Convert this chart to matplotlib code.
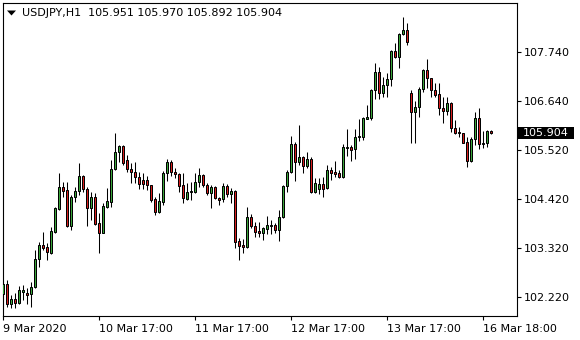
import matplotlib
matplotlib.use('Agg')
import matplotlib.pyplot as plt
from matplotlib.patches import Rectangle, Polygon
from matplotlib.transforms import blended_transform_factory

# USDJPY H1 bars
opens = [102.29, 102.52, 102.07, 102.18, 102.09, 102.34, 102.32, 102.29, 102.45, 103.08,
         103.40, 103.35, 103.22, 103.69, 104.20, 104.70, 104.63, 103.82, 104.47, 104.61,
         104.95, 104.65, 104.23, 104.47, 103.89, 103.66, 104.25, 104.36, 105.10, 105.49,
         105.62, 105.31, 105.10, 105.04, 104.92, 104.86, 104.86, 104.74, 104.43, 104.14,
         104.36, 105.01, 105.26, 105.04, 104.99, 104.74, 104.43, 104.59, 104.59, 104.81,
         104.97, 104.74, 104.56, 104.70, 104.45, 104.43, 104.72, 104.54, 104.61, 103.49,
         103.40, 103.35, 104.02, 103.82, 103.71, 103.66, 103.75, 103.83, 103.84, 103.73,
         104.02, 104.72, 105.04, 105.67, 105.26, 105.37, 105.17, 105.33, 104.59, 104.65,
         104.77, 104.68, 105.08, 105.04, 105.01, 104.92, 105.58, 105.60, 105.55, 105.82,
         105.82, 106.23, 106.25, 106.88, 107.28, 106.81, 106.99, 107.13, 107.76, 107.62,
         108.14, 108.23, 106.81, 106.38, 106.50, 106.90, 107.33, 107.15, 106.88, 106.79,
         106.47, 106.41, 106.59, 106.03, 105.94, 105.91, 105.71, 105.28, 105.78, 106.25,
         105.67, 105.69, 105.951]
highs = [102.61, 102.61, 102.27, 102.32, 102.47, 102.50, 102.43, 102.56, 103.28, 103.46,
         103.69, 103.44, 103.80, 104.25, 105.01, 104.81, 104.81, 104.52, 104.70, 105.24,
         104.97, 104.70, 104.59, 104.56, 104.11, 104.34, 104.68, 105.31, 105.91, 105.64,
         105.64, 105.42, 105.24, 105.26, 105.04, 105.01, 104.95, 104.74, 104.47, 104.56,
         105.06, 105.33, 105.31, 105.13, 105.01, 105.01, 104.79, 104.81, 105.01, 105.13,
         104.99, 104.79, 104.74, 104.72, 104.47, 104.79, 104.77, 104.68, 104.63, 103.55,
         103.53, 104.25, 104.09, 103.91, 103.91, 103.80, 104.05, 103.96, 103.89, 104.18,
         104.74, 105.08, 105.85, 105.71, 106.09, 105.40, 105.49, 105.37, 104.90, 104.90,
         104.92, 105.19, 105.15, 105.28, 105.08, 105.67, 106.00, 105.64, 106.00, 106.23,
         106.27, 106.54, 106.90, 107.49, 107.40, 107.17, 107.26, 107.78, 107.94, 108.16,
         108.52, 108.39, 106.88, 106.63, 106.95, 107.35, 107.58, 107.16, 107.04, 107.04,
         106.72, 106.72, 106.61, 106.21, 106.05, 105.92, 105.82, 105.82, 106.38, 106.47,
         105.96, 105.98, 105.970]
lows = [102.05, 102.00, 101.98, 101.98, 102.07, 102.16, 102.07, 102.00, 102.43, 102.90,
        103.28, 103.06, 103.19, 103.66, 104.18, 104.47, 103.80, 103.73, 104.36, 104.52,
        104.59, 103.82, 103.96, 103.84, 103.22, 103.66, 104.23, 104.25, 105.08, 105.26,
        105.19, 105.04, 104.79, 104.79, 104.65, 104.65, 104.63, 104.36, 104.07, 104.11,
        104.29, 104.83, 104.95, 104.90, 104.59, 104.34, 104.41, 104.41, 104.56, 104.70,
        104.70, 104.52, 104.23, 104.44, 104.29, 104.36, 104.47, 104.34, 103.33, 103.06,
        103.22, 103.33, 103.78, 103.57, 103.57, 103.51, 103.64, 103.64, 103.66, 103.49,
        104.00, 104.59, 105.01, 104.83, 105.19, 105.01, 105.13, 104.56, 104.56, 104.54,
        104.47, 104.65, 104.86, 104.92, 104.90, 104.91, 105.40, 105.28, 105.33, 105.73,
        105.75, 106.22, 106.20, 106.68, 106.68, 106.72, 106.72, 106.97, 107.60, 107.37,
        108.12, 107.89, 105.69, 105.69, 106.27, 106.83, 106.92, 106.72, 106.72, 106.32,
        106.14, 106.32, 105.94, 105.90, 105.82, 105.68, 105.15, 105.26, 105.64, 105.55,
        105.58, 105.60, 105.892]
closes = [102.52, 102.07, 102.18, 102.09, 102.38, 102.38, 102.27, 102.45, 103.08, 103.40,
          103.33, 103.24, 103.71, 104.23, 104.70, 104.61, 103.82, 104.47, 104.61, 104.95,
          104.65, 104.23, 104.47, 103.87, 103.66, 104.27, 104.38, 105.10, 105.49, 105.62,
          105.24, 105.10, 105.04, 104.92, 104.77, 104.77, 104.74, 104.41, 104.14, 104.38,
          105.01, 105.26, 105.04, 104.99, 104.72, 104.45, 104.59, 104.61, 104.81, 104.97,
          104.74, 104.56, 104.70, 104.45, 104.41, 104.72, 104.54, 104.61, 103.46, 103.37,
          103.35, 104.02, 103.82, 103.69, 103.66, 103.78, 103.84, 103.85, 103.73, 104.02,
          104.72, 105.04, 105.67, 105.26, 105.37, 105.17, 105.33, 104.59, 104.79, 104.77,
          104.65, 105.08, 105.01, 104.99, 104.92, 105.60, 105.60, 105.53, 105.82, 105.85,
          106.25, 106.27, 106.88, 107.28, 106.81, 106.99, 107.13, 107.76, 107.62, 108.14,
          108.23, 107.96, 106.38, 106.50, 106.90, 107.33, 107.15, 106.88, 106.77, 106.47,
          106.41, 106.59, 106.03, 105.91, 105.91, 105.69, 105.28, 105.78, 106.25, 105.67,
          105.69, 105.96, 105.904]

ytick_vals = [102.22, 103.32, 104.42, 105.52, 106.64, 107.74]
ytick_labels = ['102.220', '103.320', '104.420', '105.520', '106.640', '107.740']
xtick_pos = [0, 24, 48, 72, 96, 120]
xtick_labels = ['9 Mar 2020', '10 Mar 17:00', '11 Mar 17:00', '12 Mar 17:00',
                '13 Mar 17:00', '16 Mar 18:00']
title = 'USDJPY,H1  105.951 105.970 105.892 105.904'
last_price = closes[-1]

GREEN = '#3aa53a'
RED = '#d81e1e'

fig = plt.figure(figsize=(5.8, 3.4), dpi=100)
ax = fig.add_axes([2.5 / 580, 1 - 315.5 / 340, 514 / 580, 313 / 340])

# wicks then bodies
for i in range(len(opens)):
    o, h, l, c = opens[i], highs[i], lows[i], closes[i]
    ax.vlines(i, l, h, color='black', lw=0.75, zorder=2)
    col = GREEN if c >= o else RED
    ax.add_patch(Rectangle((i - 0.25, min(o, c)), 0.5, abs(c - o),
                           facecolor=col, edgecolor='black', lw=0.72, zorder=3))

ax.set_xlim(-0.1, 128.4)
ax.set_ylim(101.811, 108.846)

ax.yaxis.tick_right()
ax.set_yticks(ytick_vals)
ax.set_yticklabels(ytick_labels)
ax.set_xticks(xtick_pos)
ax.set_xticklabels(xtick_labels, ha='left')
ax.tick_params(axis='both', direction='out', length=3, width=0.8,
               labelsize=8, colors='black')
ax.tick_params(axis='y', pad=2.5)
ax.tick_params(axis='x', pad=3)
for sp in ax.spines.values():
    sp.set_linewidth(0.8)
    sp.set_color('black')

# current price box on the right scale
tr = blended_transform_factory(ax.transAxes, ax.transData)
ax.add_patch(Rectangle((1.003, last_price - 0.135), 0.109, 0.27,
                       transform=tr, facecolor='black', edgecolor='none',
                       clip_on=False, zorder=5))
ax.text(1.0126, last_price, '%.3f' % last_price, transform=tr, color='white',
        fontsize=8, ha='left', va='center', zorder=6)

# header line: flat down-triangle then symbol and OHLC
fig.add_artist(Polygon([(7 / 580, 1 - 10.5 / 340), (16 / 580, 1 - 10.5 / 340),
                        (11.5 / 580, 1 - 15.5 / 340)], closed=True,
                       transform=fig.transFigure, facecolor='black',
                       edgecolor='none'))
fig.text(22 / 580, 1 - 13 / 340, title, fontsize=8, ha='left', va='center')

fig.savefig('out.png', dpi=100)
